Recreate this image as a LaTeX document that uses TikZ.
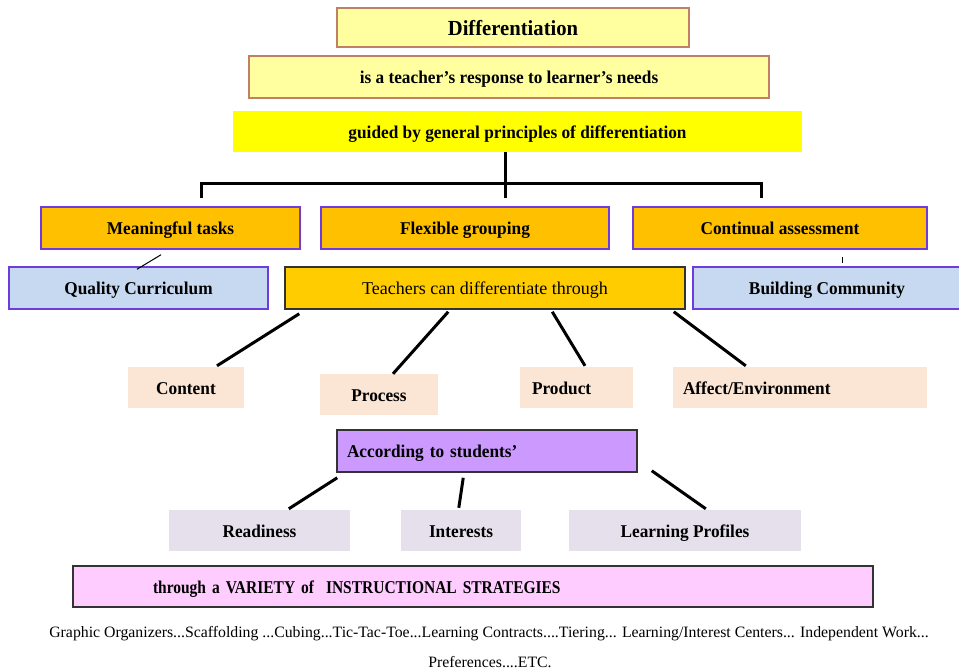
\documentclass[tikz,border=0pt]{standalone}
\usepackage{fontspec}
\setmainfont{Liberation Serif}
\newfontfamily\lblfont[FakeStretch=0.96]{Liberation Serif}
\newfontfamily\lblnarrow[FakeStretch=0.86]{Liberation Serif}
\usetikzlibrary{calc}
\definecolor{lyel}{RGB}{255,255,160}
\definecolor{lyelbd}{RGB}{192,128,100}
\definecolor{yel}{RGB}{255,255,0}
\definecolor{orng}{RGB}{255,192,0}
\definecolor{orng2}{RGB}{255,204,0}
\definecolor{purbd}{RGB}{110,60,220}
\definecolor{lblue}{RGB}{198,217,240}
\definecolor{peach}{RGB}{251,229,213}
\definecolor{violet}{RGB}{204,153,255}
\definecolor{lav}{RGB}{229,224,236}
\definecolor{pink}{RGB}{255,204,255}
\definecolor{dkbd}{RGB}{51,51,51}
\tikzset{
  base/.style={rectangle, inner sep=0pt, text height=15pt, text depth=2pt, font=\lblfont\bfseries\fontsize{18}{20}\selectfont, text=black},
  topbox/.style={base, fill=lyel, draw=lyelbd, line width=1.5pt},
  guidebox/.style={base, fill=yel},
  orbox/.style={base, fill=orng, draw=purbd, line width=1.5pt},
  bluebox/.style={base, fill=lblue, draw=purbd, line width=1.5pt},
  tcbox/.style={base, fill=orng2, draw=dkbd, line width=1.5pt, font=\rmfamily\fontsize{18}{20}\selectfont},
  peachbox/.style={base, fill=peach},
  accbox/.style={base, fill=violet, draw=dkbd, line width=1.5pt},
  lavbox/.style={base, fill=lav},
  pinkbox/.style={base, fill=pink, draw=dkbd, line width=1.5pt, font=\lblnarrow\bfseries\fontsize{18}{20}\selectfont},
  conn/.style={line width=3pt, black},
  bar/.style={line width=3pt, black},
  thin/.style={line width=1pt, black},
  foot/.style={inner sep=0pt, font=\rmfamily\fontsize{15.8}{17}\selectfont}
}
\begin{document}
\begin{tikzpicture}[x=1pt,y=-1pt]
\fill[white] (0,0) rectangle (959,672);
\useasboundingbox (0,0) rectangle (959,672);
% top
\node[topbox, minimum width=352pt, minimum height=39pt, text height=17pt, text depth=2pt, font=\lblfont\bfseries\fontsize{21.5}{24}\selectfont] (diff) at (513,27.5) {Differentiation};
\node[topbox, minimum width=520pt, minimum height=42pt] (resp) at (509,77) {is a teacher’s response to learner’s needs};
\node[guidebox, minimum width=569pt, minimum height=41pt] (guided) at (517.5,131.5) {guided by general principles of differentiation};
% principles
\node[orbox, minimum width=259pt, minimum height=42pt] (mt) at (170.5,228) {Meaningful tasks};
\node[orbox, minimum width=288pt, minimum height=42pt] (fg) at (465,228) {Flexible grouping};
\node[orbox, minimum width=294pt, minimum height=42pt] (ca) at (780,228) {Continual assessment};
% second row
\node[bluebox, minimum width=259pt, minimum height=42pt] (qc) at (138.5,288) {Quality Curriculum};
\node[tcbox, minimum width=400pt, minimum height=42pt] (tc) at (485,288) {Teachers can differentiate through};
\node[bluebox, minimum width=268pt, minimum height=42pt] (bc) at (827,288) {Building Community};
% what
\node[peachbox, minimum width=116pt, minimum height=41pt] (content) at (186,387.5) {Content};
\node[peachbox, minimum width=118pt, minimum height=41pt] (process) at (379,394.5) {Process};
\node[peachbox, minimum width=113pt, minimum height=41pt, text width=113pt, align=left] (product) at (576.5,387.5) {\hspace*{12pt}Product};
\node[peachbox, minimum width=254pt, minimum height=41pt, text width=254pt, align=left] (affect) at (800,387.5) {\hspace*{10pt}Affect/Environment};
% according
\node[accbox, minimum width=300pt, minimum height=42pt, text width=300pt, align=left] (acc) at (487,451) {\hspace*{10pt}According to students’};
\node[lavbox, minimum width=181pt, minimum height=41pt] (ready) at (259.5,530.5) {Readiness};
\node[lavbox, minimum width=120pt, minimum height=41pt] (inter) at (461,530.5) {Interests};
\node[lavbox, minimum width=232pt, minimum height=41pt] (lp) at (685,530.5) {Learning Profiles};
\node[pinkbox, minimum width=800pt, minimum height=41pt, text width=800pt, align=left] (var) at (473,586.5) {\hspace*{80pt}through a VARIETY of\ \ INSTRUCTIONAL STRATEGIES};
% footer
\node[foot] (f1) at (489,634) {Graphic Organizers...Scaffolding ...Cubing...Tic-Tac-Toe...Learning Contracts....Tiering... Learning/Interest Centers... Independent Work...};
\node[foot] (f2) at (490,662) {Preferences....ETC.};
% hierarchy bar
\draw[bar] ($(guided.south)+(-12.5,0)$) -- ($(fg.north)+(40,-23)$);
\draw[bar] ($(mt.north)+(30.5,-8)$) -- ++(0,-15) -| ($(ca.north)+(-19,-8)$);
\draw[bar] ($(fg.north)+(40,-8)$) -- ++(0,-15);
% thin ticks
\draw[thin] ($(mt.south)+(-9.5,5)$) -- ($(qc.north)+(-1.5,3)$);
\draw[thin] ($(ca.south)+(62,7)$) -- ++(0,6);
% from teachers box
\draw[conn] ($(tc.south west)+(15,4)$) -- ($(content.north)+(31,-1)$);
\draw[conn] ($(tc.south west)+(164,2)$) -- ($(process.north)+(14,0)$);
\draw[conn] ($(tc.south west)+(268,2)$) -- ($(product.north)+(8.5,-1)$);
\draw[conn] ($(tc.south east)+(-12,2)$) -- ($(affect.north west)+(73,-1)$);
% from according box
\draw[conn] ($(acc.south west)+(1,5)$) -- ($(ready.north west)+(120,-1)$);
\draw[conn] ($(acc.south west)+(127,5)$) -- ($(inter.north west)+(58,-2)$);
\draw[conn] ($(acc.south east)+(14,-2)$) -- ($(lp.north west)+(137,-1)$);
\end{tikzpicture}
\end{document}
